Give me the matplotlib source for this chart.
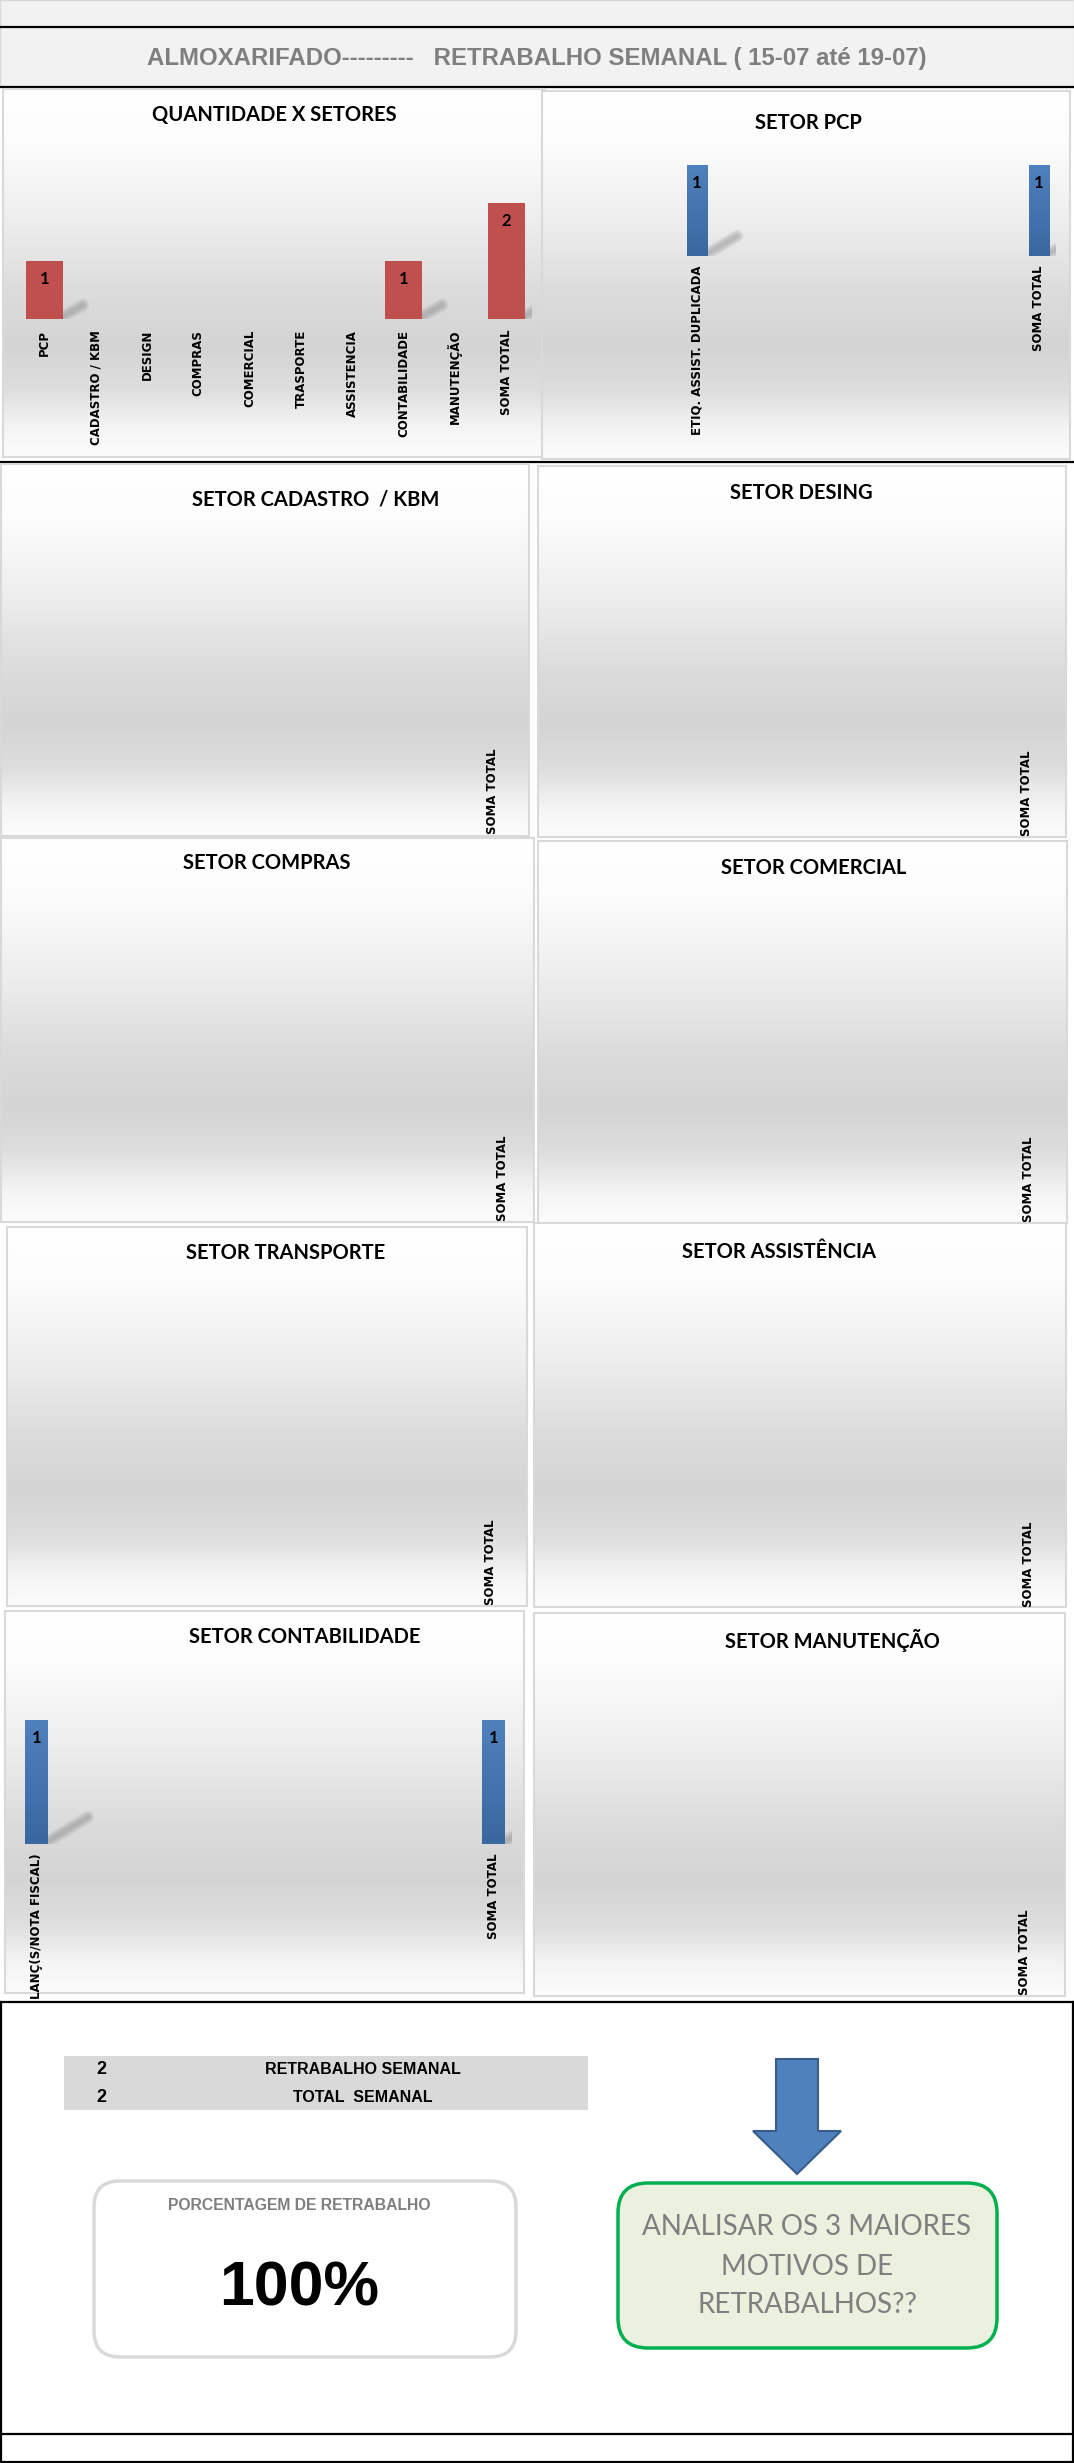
import numpy as np
import matplotlib
matplotlib.use("Agg")
import matplotlib.pyplot as plt
from matplotlib.colors import LinearSegmentedColormap
from matplotlib.patches import Rectangle, FancyBboxPatch, Polygon

W, H = 1074, 2463
DPI = 100

# dados
setores = ["PCP", "CADASTRO / KBM", "DESIGN", "COMPRAS", "COMERCIAL",
           "TRASPORTE", "ASSISTENCIA", "CONTABILIDADE", "MANUTENÇÃO", "SOMA TOTAL"]
qtd_setores = [1, 0, 0, 0, 0, 0, 0, 1, 0, 2]

pcp_motivos = ["ETIQ. ASSIST. DUPLICADA", "SOMA TOTAL"]
pcp_qtd = [1, 1]

contab_motivos = ["LANÇ(S/NOTA FISCAL)", "SOMA TOTAL"]
contab_qtd = [1, 1]

vazio_motivos = ["SOMA TOTAL"]
vazio_qtd = [0]

retrabalho_semanal = 2
total_semanal = 2

titulo = "ALMOXARIFADO---------   RETRABALHO SEMANAL ( 15-07 até 19-07)"

RED = "#c0504d"
GRAY_TXT = "#7f7f7f"

bg_cmap = LinearSegmentedColormap.from_list("fundo", [
    (0.0, "#ffffff"), (0.13, "#fdfdfd"), (0.35, "#eeeeee"), (0.55, "#dcdcdc"),
    (0.70, "#d4d4d4"), (0.82, "#dedede"), (0.92, "#f4f4f4"), (1.0, "#fcfcfc")])
blue_cmap = LinearSegmentedColormap.from_list("azul", ["#3a67a0", "#4f81bd"])

fig = plt.figure(figsize=(W / DPI, H / DPI), dpi=DPI)


def px_axes(x0, y0, x1, y1, z=1):
    ax = fig.add_axes([x0 / W, 1 - y1 / H, (x1 - x0) / W, (y1 - y0) / H])
    ax.set_zorder(z)
    return ax


def painel(x0, y0, x1, y1):
    ax = px_axes(x0, y0, x1, y1, z=1)
    grad = np.linspace(0, 1, 256).reshape(-1, 1)
    ax.imshow(grad, cmap=bg_cmap, aspect="auto", extent=[0, 1, 0, 1], origin="upper")
    ax.set_xlim(0, 1)
    ax.set_ylim(0, 1)
    ax.axis("off")
    ax.add_patch(Rectangle((0, 0), 1, 1, transform=ax.transAxes, fill=False,
                           edgecolor="#d9d9d9", linewidth=1.5, clip_on=False))


def grafico(box, cats, vals, xlim, ylim, width, color, pad, gradient=False, sombra=(20, 14)):
    ax = px_axes(*box, z=2)
    ax.patch.set_alpha(0)
    for s in ax.spines.values():
        s.set_visible(False)
    x = np.arange(len(cats))
    bars = ax.bar(x, vals, width=width, color=color, linewidth=0, zorder=3)
    ax.set_xlim(*xlim)
    ax.set_ylim(*ylim)
    ax.set_yticks([])
    ax.set_xticks(x)
    ax.set_xticklabels(cats, rotation=90, fontsize=8.5, fontweight="bold",
                       fontfamily="DejaVu Sans", va="top")
    ax.tick_params(axis="x", length=0, pad=pad)
    # escala px -> dados para a sombra
    sx = (xlim[1] - xlim[0]) / (box[2] - box[0])
    sy = (ylim[1] - ylim[0]) / (box[3] - box[1])
    for b, v in zip(bars, vals):
        if v <= 0:
            continue
        bx = b.get_x() + b.get_width()
        for lw in [9, 7, 5, 3]:
            ax.plot([bx + 1 * sx, bx + sombra[0] * sx], [3 * sy, sombra[1] * sy],
                    color="#606060", alpha=0.09, linewidth=lw,
                    solid_capstyle="round", zorder=2)
        if gradient:
            g = np.linspace(0, 1, 64).reshape(-1, 1)
            im = ax.imshow(g, cmap=blue_cmap, aspect="auto", zorder=3.5,
                           extent=[b.get_x(), bx, 0, v], origin="lower")
            im.set_clip_path(b)
        ax.annotate(str(v), (b.get_x() + b.get_width() / 2, v),
                    xytext=(0, -13), textcoords="offset points",
                    ha="center", va="center", fontsize=12,
                    fontweight="bold", fontfamily="Lato", zorder=5)
    ax.set_xlim(*xlim)
    ax.set_ylim(*ylim)
    return ax


# camada de fundo / linhas
ax0 = px_axes(0, 0, W, H, z=0)
ax0.set_xlim(0, W)
ax0.set_ylim(H, 0)
ax0.axis("off")
ax0.add_patch(Rectangle((0, 0), W, 87, facecolor="#f2f2f2", edgecolor="#d9d9d9", linewidth=1))
for yy in [27, 87, 462, 2002, 2434]:
    ax0.plot([0, W], [yy, yy], color="black", linewidth=1.6)
ax0.plot([0, W], [H - 1, H - 1], color="black", linewidth=1.6)
ax0.plot([0.8, 0.8], [2002, H], color="black", linewidth=1.6)
ax0.plot([W - 1, W - 1], [2002, H], color="black", linewidth=1.6)

# paineis
paineis = [
    ((3, 89, 545, 457), "QUANTIDADE X SETORES", (274, 115)),
    ((542, 91, 1070, 459), "SETOR PCP", (808, 123)),
    ((1, 464, 529, 836), "SETOR CADASTRO  / KBM", (316, 500)),
    ((538, 466, 1066, 837), "SETOR DESING", (801, 493)),
    ((1, 838, 534, 1222), "SETOR COMPRAS", (267, 863)),
    ((538, 841, 1067, 1223), "SETOR COMERCIAL", (814, 868)),
    ((7, 1227, 527, 1606), "SETOR TRANSPORTE", (286, 1253)),
    ((534, 1223, 1066, 1607), "SETOR ASSISTÊNCIA", (779, 1252)),
    ((5, 1611, 524, 1993), "SETOR CONTABILIDADE", (305, 1637)),
    ((534, 1613, 1065, 1996), "SETOR MANUTENÇÃO", (832, 1640)),
]
for box, _, _ in paineis:
    painel(*box)

# graficos
grafico((18.8, 174, 531.8, 319), setores, qtd_setores, (-0.5, 9.5), (0, 2.5),
        0.72, RED, 7.9, sombra=(20, 14))
grafico((679.9, 156, 1056.1, 256), pcp_motivos, pcp_qtd, (-0.05, 1.05), (0, 1.1),
        0.06, "#4f81bd", 6.5, gradient=True, sombra=(30, 20))
grafico((18.2, 1707.6, 511.8, 1844), contab_motivos, contab_qtd, (-0.04, 1.04),
        (0, 1.1), 0.05, "#4f81bd", 6.5, gradient=True, sombra=(40, 27))

vazios = [(492, 748), (1027, 750), (503, 1135), (1029, 1136),
          (490, 1519), (1029, 1521), (1025, 1909)]
for cx, ty in vazios:
    base = ty - 8
    grafico((cx - 20, base - 100, cx + 20, base), vazio_motivos, vazio_qtd,
            (-0.5, 0.5), (0, 1), 0.5, "#4f81bd", 5.8)

# camada de cima: textos e formas
ax1 = px_axes(0, 0, W, H, z=5)
ax1.set_xlim(0, W)
ax1.set_ylim(H, 0)
ax1.axis("off")
ax1.patch.set_alpha(0)

ax1.text(537, 58, titulo, ha="center", va="center", fontsize=17.3,
         fontweight="bold", fontfamily="Liberation Sans", color=GRAY_TXT)

for box, t, (tx, ty) in paineis:
    ax1.text(tx, ty, t, ha="center", va="center", fontsize=14.5,
             fontweight="bold", fontfamily="Lato", color="black")

# tabela resumo
ax1.add_patch(Rectangle((64, 2056), 524, 54, facecolor="#d9d9d9", edgecolor="none"))
ax1.text(101, 2070, str(retrabalho_semanal), ha="center", va="center",
         fontsize=13, fontweight="bold", fontfamily="Liberation Sans")
ax1.text(101, 2098, str(total_semanal), ha="center", va="center",
         fontsize=13, fontweight="bold", fontfamily="Liberation Sans")
ax1.text(363, 2069, "RETRABALHO SEMANAL", ha="center", va="center",
         fontsize=11.5, fontweight="bold", fontfamily="Liberation Sans")
ax1.text(363, 2097, "TOTAL  SEMANAL", ha="center", va="center",
         fontsize=11.5, fontweight="bold", fontfamily="Liberation Sans")

# caixa porcentagem
ax1.add_patch(FancyBboxPatch((94, 2181), 422, 176,
                             boxstyle="round,pad=0,rounding_size=26",
                             facecolor="white", edgecolor="#d9d9d9", linewidth=2.5))
ax1.text(299, 2205, "PORCENTAGEM DE RETRABALHO", ha="center", va="center",
         fontsize=11.3, fontweight="bold", fontfamily="Liberation Sans", color=GRAY_TXT)
pct = retrabalho_semanal / total_semanal * 100
ax1.text(299, 2289, f"{pct:.0f}%", ha="center", va="center",
         fontsize=45, fontweight="bold", fontfamily="Liberation Sans", color="black")

# seta
ax1.add_patch(Polygon([(776, 2059), (818, 2059), (818, 2131), (841, 2131),
                       (797, 2174), (753, 2131), (776, 2131)], closed=True,
                      facecolor="#4f81bd", edgecolor="#385d8a", linewidth=1.5))

# caixa verde
ax1.add_patch(FancyBboxPatch((618, 2183), 379, 165,
                             boxstyle="round,pad=0,rounding_size=30",
                             facecolor="#ebf1de", edgecolor="#00b050", linewidth=2.5))
for yy, linha in zip([2227, 2267, 2305], ["ANALISAR OS 3 MAIORES", "MOTIVOS DE", "RETRABALHOS??"]):
    ax1.text(807, yy, linha, ha="center", va="center", fontsize=20,
             fontfamily="Lato", color=GRAY_TXT)

fig.savefig("out.png", dpi=DPI)
